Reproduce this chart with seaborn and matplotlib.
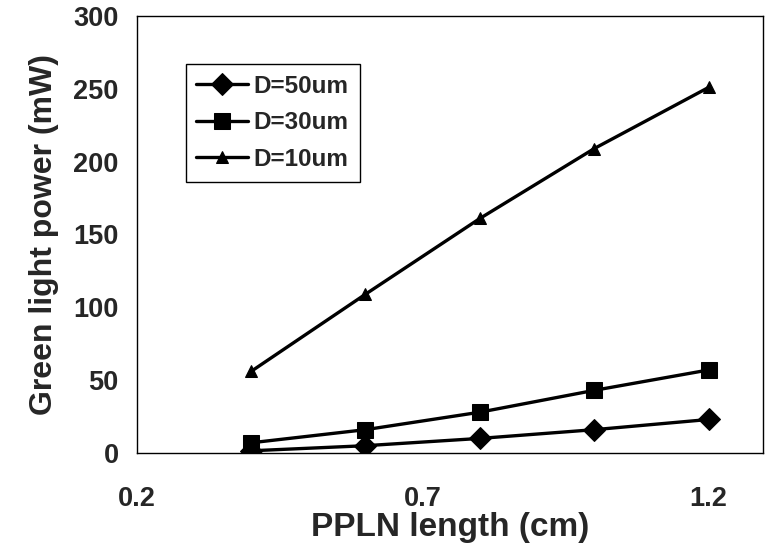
import matplotlib
matplotlib.use("Agg")
import matplotlib.pyplot as plt
import seaborn as sns
import pandas as pd

lengths = [0.4, 0.6, 0.8, 1.0, 1.2]
series_names = ["D=50um", "D=30um", "D=10um"]
d50 = [1.5, 5, 10, 16, 23]
d30 = [7, 16, 28, 43, 57]
d10 = [56, 109, 161, 209, 251]
x_ticks = [0.2, 0.7, 1.2]
y_ticks = [0, 50, 100, 150, 200, 250, 300]

rows = []
for name, vals in zip(series_names, [d50, d30, d10]):
    for x, y in zip(lengths, vals):
        rows.append({"x": x, "y": y, "series": name})
df = pd.DataFrame(rows)

sns.set_style("white")
plt.rcParams['font.family'] = ['Liberation Sans', 'DejaVu Sans']
plt.rcParams['font.weight'] = 'bold'

fig = plt.figure(figsize=(7.68, 5.48), dpi=100)
ax = fig.add_axes([0.178, 0.1734, 0.8155, 0.7974])

markers = {"D=50um": "D", "D=30um": "s", "D=10um": "^"}
sizes_map = {"D=50um": 11, "D=30um": 12, "D=10um": 8}
for name in series_names:
    sub = df[df["series"] == name]
    sns.lineplot(data=sub, x="x", y="y", ax=ax, color="black", linewidth=2.4,
                 marker=markers[name], markersize=sizes_map[name],
                 markeredgecolor="black", markerfacecolor="black", label=name)

ax.set_xlim(0.2, 1.295)
ax.set_ylim(0, 300)
ax.set_xticks(x_ticks)
ax.set_xticklabels([str(t) for t in x_ticks])
ax.set_yticks(y_ticks)
ax.tick_params(axis='x', direction='in', length=7, width=1, pad=24, labelsize=19.5)
ax.tick_params(axis='y', direction='out', length=5, width=1, pad=8, labelsize=19.5)
for lab in ax.get_xticklabels() + ax.get_yticklabels():
    lab.set_fontweight('bold')
for sp in ax.spines.values():
    sp.set_visible(True)
    sp.set_color('black')
    sp.set_linewidth(1.0)

ax.set_xlabel("PPLN length (cm)", fontsize=24, fontweight='bold', labelpad=0)
ax.set_ylabel("Green light power (mW)", fontsize=23, fontweight='bold', labelpad=10)

leg = ax.legend(loc='upper left', bbox_to_anchor=(0.078, 0.89), borderaxespad=0,
                fancybox=False, edgecolor='black', framealpha=1,
                prop={'weight': 'bold', 'size': 17.5}, handlelength=2.1,
                handletextpad=0.25, labelspacing=0.55, borderpad=0.45)
leg.get_frame().set_linewidth(1.0)

fig.savefig("out.png", dpi=100)
